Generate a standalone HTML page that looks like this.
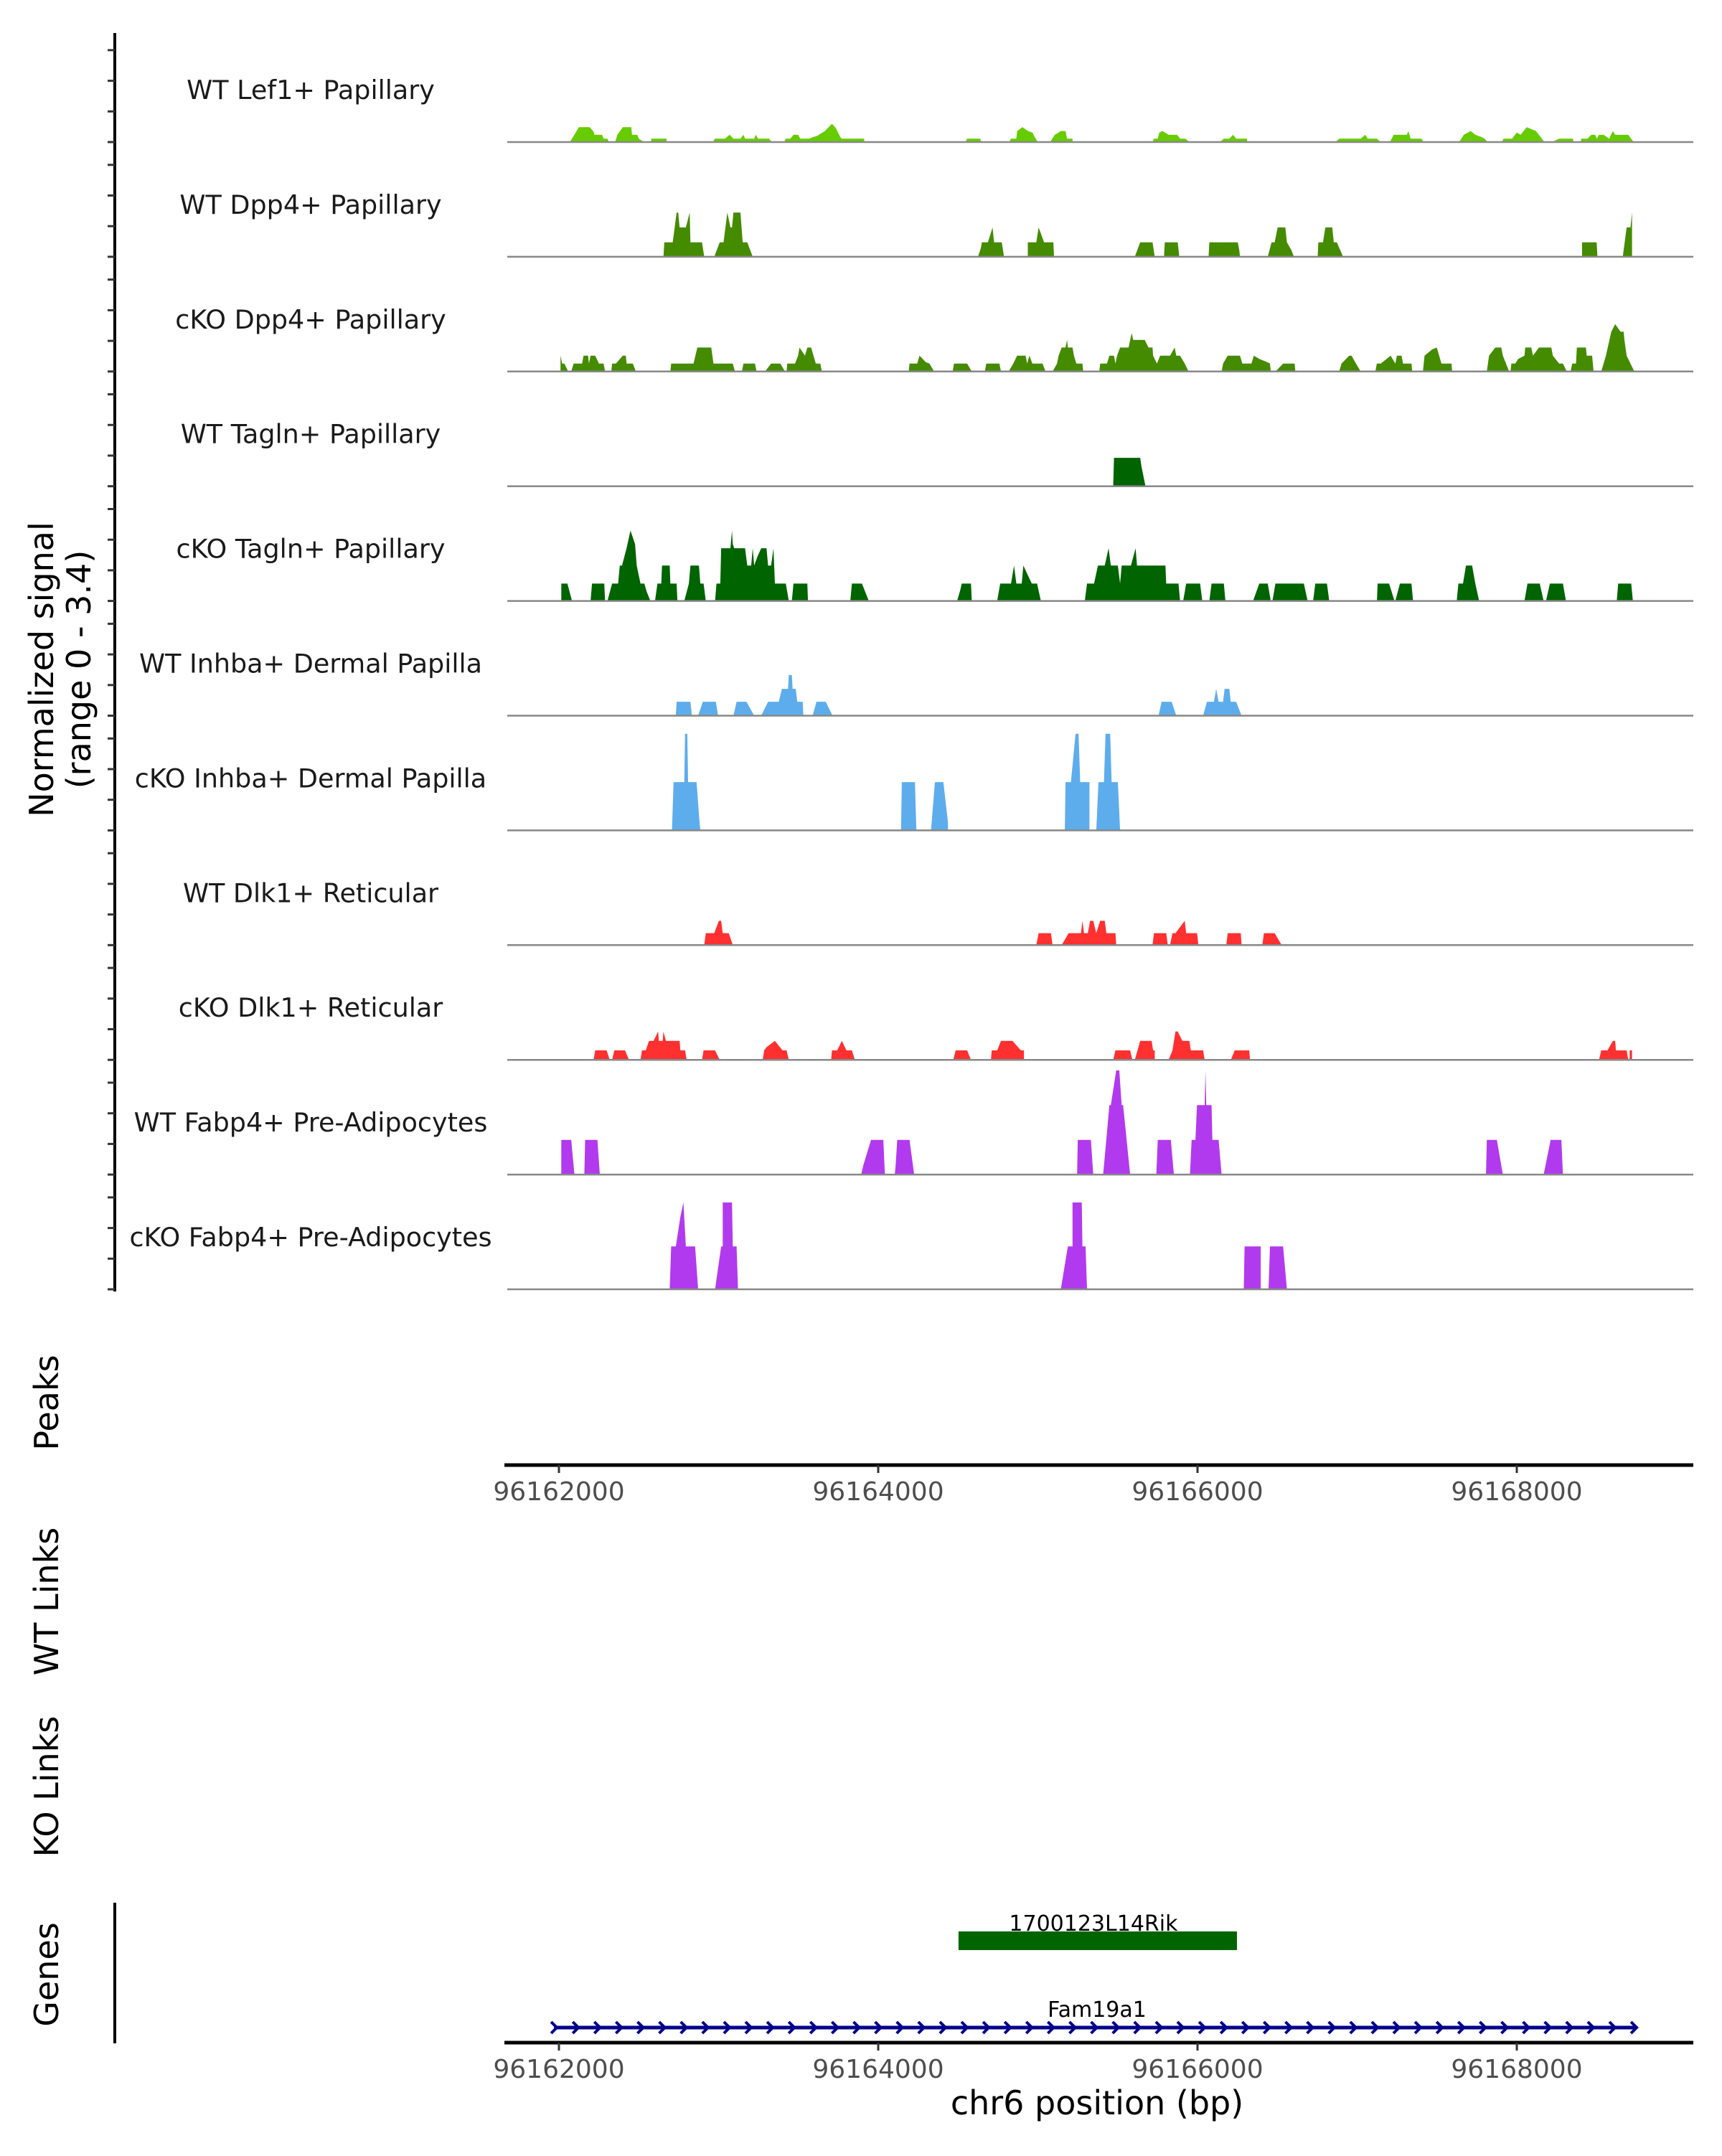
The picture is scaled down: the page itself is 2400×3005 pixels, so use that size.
<!DOCTYPE html>
<html><head><meta charset="utf-8"><style>
html,body{margin:0;padding:0;background:#fff;}
svg text{font-family:"DejaVu Sans","Liberation Sans",sans-serif;}
</style></head><body>
<svg id="chart" xmlns="http://www.w3.org/2000/svg" width="2400" height="3000" viewBox="0 0 2400 3000"></svg>
<script>
const regionStart = 96162000;
const trackNames = ["WT Lef1+ Papillary","WT Dpp4+ Papillary","cKO Dpp4+ Papillary","WT Tagln+ Papillary","cKO Tagln+ Papillary","WT Inhba+ Dermal Papilla","cKO Inhba+ Dermal Papilla","WT Dlk1+ Reticular","cKO Dlk1+ Reticular","WT Fabp4+ Pre-Adipocytes","cKO Fabp4+ Pre-Adipocytes"];
const trackColors = ["#66CC00","#458B00","#458B00","#006400","#006400","#5DADEC","#5DADEC","#FF3030","#FF3030","#B23AEE","#B23AEE"];
const xTicks = [96162000,96164000,96166000,96168000];

// signal: [bp offset from regionStart, normalized value]
const wtLef1 = [[68,0],[87,0.15],[125,0.47],[193,0.47],[217,0.33],[222,0.23],[270,0.23],[280,0.11],[304,0.11],[313,0],
[352,0],[366,0.23],[400,0.47],[453,0.47],[458,0.23],[491,0.23],[501,0.1],[535,0],
[578,0],[578,0.11],[674,0.11],[674,0],
[963,0],[978,0.11],[1040,0.11],[1069,0.23],[1093,0.11],[1137,0.11],[1156,0.23],[1166,0.11],[1223,0.11],[1233,0.23],[1247,0.11],[1315,0.11],[1334,0],
[1411,0],[1421,0.11],[1450,0.11],[1469,0.23],[1498,0.23],[1512,0.11],[1565,0.11],[1618,0.2],[1666,0.35],[1710,0.58],[1734,0.45],[1763,0.15],[1772,0.11],[1912,0.11],[1912,0],
[2547,0],[2557,0.11],[2639,0.11],[2644,0],
[2822,0],[2831,0.11],[2865,0.11],[2870,0.35],[2904,0.47],[2938,0.35],[2966,0.3],[2981,0.15],[3000,0],
[3077,0],[3106,0.23],[3145,0.35],[3173,0.35],[3183,0.11],[3217,0.11],[3217,0],
[3718,0],[3727,0.11],[3751,0.11],[3761,0.3],[3780,0.35],[3819,0.23],[3872,0.23],[3891,0.11],[3924,0.11],[3949,0],
[4141,0],[4165,0.11],[4199,0.11],[4223,0.23],[4242,0.11],[4310,0.11],[4310,0],
[4864,0],[4888,0.11],[5022,0.11],[5051,0.23],[5066,0.11],[5123,0.11],[5148,0],
[5205,0],[5229,0.23],[5311,0.23],[5321,0.35],[5335,0.11],[5402,0.11],[5417,0],
[5638,0],[5653,0.11],[5668,0.23],[5711,0.35],[5740,0.23],[5783,0.15],[5798,0.11],[5817,0],
[5904,0],[5918,0.11],[5971,0.11],[6000,0.3],[6024,0.23],[6062,0.47],[6120,0.35],[6139,0.23],[6173,0],
[6221,0],[6265,0.11],[6351,0.11],[6356,0],
[6400,0],[6404,0.11],[6443,0.11],[6467,0.23],[6491,0.23],[6501,0.11],[6515,0.23],[6544,0.23],[6578,0.11],[6602,0.35],[6616,0.23],[6698,0.23],[6732,0]];

const wtDpp4 = [[655,0],[660,0.46],[713,0.46],[737,1.4],[747,1.4],[756,0.93],[795,0.93],[819,1.4],[824,0.46],[896,0.46],[910,0],
[973,0],[1007,0.46],[1031,0.46],[1055,1.4],[1074,0.93],[1084,0.93],[1093,1.4],[1137,1.4],[1151,0.46],[1180,0.46],[1214,0],
[2625,0],[2644,0.3],[2649,0.46],[2687,0.46],[2716,0.93],[2726,0.46],[2774,0.46],[2788,0],
[2937,0],[2937,0.46],[2990,0.46],[3005,0.93],[3039,0.46],[3097,0.46],[3101,0],
[3607,0],[3641,0.46],[3718,0.46],[3732,0],
[3790,0],[3795,0.46],[3876,0.46],[3886,0],
[4069,0],[4074,0.46],[4252,0.46],[4262,0.2],[4266,0],
[4440,0],[4464,0.46],[4483,0.46],[4502,0.93],[4550,0.93],[4560,0.46],[4589,0.2],[4604,0],
[4753,0],[4757,0.46],[4786,0.46],[4801,0.93],[4844,0.93],[4854,0.46],[4873,0.46],[4912,0],
[6409,0],[6409,0.46],[6500,0.46],[6505,0],
[6664,0],[6688,0.93],[6712,0.93],[6722,1.4],[6722,0]];

const koDpp4 = [[10,0],[10,0.5],[20,0.25],[34,0.25],[58,0],
[77,0],[92,0.25],[145,0.25],[154,0.5],[183,0.5],[188,0.25],[198,0.5],[227,0.5],[251,0.25],[280,0.25],[289,0],
[328,0],[333,0.25],[357,0.25],[400,0.5],[419,0.5],[424,0.25],[463,0.25],[482,0],
[698,0],[703,0.25],[843,0.25],[867,0.76],[954,0.76],[968,0.25],[1089,0.25],[1103,0],
[1146,0],[1156,0.25],[1228,0.25],[1238,0],
[1291,0],[1329,0.25],[1387,0.25],[1416,0],
[1426,0],[1430,0.25],[1479,0.25],[1498,0.5],[1507,0.76],[1541,0.5],[1556,0.76],[1580,0.76],[1609,0.25],[1637,0.25],[1647,0],
[2191,0],[2196,0.25],[2244,0.25],[2259,0.5],[2297,0.3],[2321,0.25],[2350,0],
[2466,0],[2475,0.25],[2557,0.25],[2586,0],
[2668,0],[2677,0.25],[2759,0.25],[2769,0],
[2817,0],[2846,0.25],[2870,0.5],[2923,0.5],[2933,0.25],[2947,0.5],[2966,0.25],[3029,0.25],[3048,0],
[3092,0],[3120,0.25],[3130,0.5],[3149,0.76],[3173,0.76],[3183,1.0],[3188,0.76],[3217,0.76],[3226,0.5],[3241,0.25],[3279,0.25],[3284,0],
[3385,0],[3390,0.25],[3433,0.25],[3448,0.5],[3477,0.5],[3486,0.25],[3496,0.5],[3515,0.76],[3568,0.76],[3588,1.22],[3597,1.0],[3669,1.0],[3693,0.76],[3718,0.76],[3722,0.5],[3746,0.25],[3766,0.5],[3828,0.5],[3857,0.76],[3867,0.5],[3891,0.5],[3920,0.25],[3944,0],
[4151,0],[4160,0.25],[4189,0.5],[4266,0.5],[4281,0.25],[4338,0.25],[4353,0.5],[4387,0.4],[4435,0.3],[4454,0.25],[4459,0],
[4488,0],[4536,0.25],[4608,0.25],[4613,0],
[4887,0],[4902,0.25],[4950,0.5],[4965,0.5],[4993,0.25],[5022,0],
[5114,0],[5123,0.25],[5148,0.25],[5210,0.5],[5239,0.25],[5249,0.5],[5278,0.5],[5287,0.25],[5340,0.25],[5345,0],
[5412,0],[5422,0.5],[5470,0.7],[5499,0.76],[5528,0.25],[5591,0.25],[5595,0],
[5812,0],[5826,0.5],[5865,0.76],[5903,0.76],[5913,0.5],[5952,0],[5961,0],[5966,0.25],[5990,0.25],[6009,0.4],[6048,0.5],[6053,0.76],[6091,0.76],[6101,0.5],[6139,0.76],[6216,0.76],[6226,0.5],[6265,0.25],[6289,0.25],[6313,0],
[6337,0],[6347,0.25],[6371,0.25],[6376,0.76],[6433,0.76],[6438,0.5],[6472,0.5],[6481,0],
[6529,0],[6558,0.5],[6592,1.26],[6616,1.5],[6650,1.26],[6669,1.26],[6674,1.0],[6688,0.5],[6736,0]];

const wtTagln = [[3472,0],[3477,0.9],[3641,0.9],[3650,0.6],[3674,0]];

const koTagln = [[15,0],[15,0.55],[53,0.55],[77,0.1],[82,0],
[198,0],[207,0.55],[284,0.55],[289,0],
[304,0],[333,0.55],[371,0.55],[381,1.12],[395,1.12],[424,1.67],[448,2.23],[477,1.8],[487,1.12],[511,0.55],[535,0.55],[549,0.3],[573,0],
[602,0],[617,0.55],[641,0.55],[646,1.12],[694,1.12],[698,0.55],[737,0.55],[742,0],
[785,0],[814,0.55],[824,1.12],[877,1.12],[886,0.55],[906,0.55],[920,0],
[978,0],[987,0.55],[1011,0.55],[1016,1.67],[1074,1.67],[1084,2.23],[1089,1.8],[1098,1.67],[1166,1.67],[1180,1.12],[1204,1.12],[1214,1.67],[1223,1.12],[1243,1.4],[1267,1.67],[1300,1.67],[1310,1.12],[1329,1.12],[1344,1.67],[1353,0.55],[1421,0.55],[1440,0],
[1459,0],[1469,0.55],[1556,0.55],[1560,0],
[1825,0],[1835,0.55],[1898,0.55],[1941,0],
[2494,0],[2514,0.35],[2523,0.55],[2581,0.55],[2586,0],
[2745,0],[2764,0.55],[2832,0.55],[2851,1.12],[2865,0.55],[2899,0.55],[2909,1.12],[2962,0.55],[2995,0.55],[3019,0],
[3294,0],[3308,0.55],[3352,0.55],[3376,1.12],[3419,1.12],[3443,1.67],[3457,1.12],[3501,1.12],[3515,0.55],[3525,1.12],[3583,1.12],[3612,1.67],[3621,1.12],[3799,1.12],[3804,0.55],[3881,0.55],[3891,0],
[3910,0],[3929,0.55],[4016,0.55],[4030,0],
[4074,0],[4088,0.55],[4165,0.55],[4175,0],
[4348,0],[4387,0.55],[4440,0.55],[4459,0],[4469,0],[4488,0.55],[4666,0.55],[4690,0],
[4724,0],[4738,0.55],[4811,0.55],[4825,0],
[5124,0],[5128,0.55],[5200,0.55],[5234,0],[5239,0],[5268,0.55],[5340,0.55],[5350,0],
[5624,0],[5634,0.55],[5663,0.55],[5682,1.12],[5720,1.12],[5740,0.55],[5764,0],
[6048,0],[6067,0.55],[6144,0.55],[6168,0],
[6183,0],[6207,0.55],[6289,0.55],[6308,0],
[6626,0],[6635,0.55],[6717,0.55],[6727,0]];

const wtInhba = [[732,0],[737,0.44],[824,0.44],[833,0],
[872,0],[901,0.44],[983,0.44],[997,0],
[1093,0],[1113,0.44],[1175,0.44],[1223,0],
[1267,0],[1310,0.44],[1377,0.44],[1397,0.85],[1435,0.85],[1440,1.29],[1459,1.29],[1464,0.85],[1483,0.85],[1493,0.44],[1527,0.44],[1531,0],
[1589,0],[1613,0.44],[1671,0.44],[1714,0],
[3756,0],[3775,0.44],[3838,0.44],[3867,0],
[4035,0],[4059,0.44],[4103,0.44],[4117,0.85],[4132,0.44],[4160,0.44],[4170,0.85],[4199,0.85],[4208,0.44],[4242,0.44],[4276,0]];

const koInhba = [[708,0],[718,1.53],[785,1.53],[790,3.06],[804,3.06],[809,1.53],[862,1.53],[881,0.25],[886,0],
[2143,0],[2148,1.53],[2230,1.53],[2234,0.8],[2239,0],
[2331,0],[2355,1.53],[2408,1.53],[2437,0.25],[2437,0],
[3169,0],[3173,1.53],[3207,1.53],[3236,3.06],[3255,3.06],[3265,1.53],[3323,1.53],[3323,0],
[3366,0],[3380,1.53],[3414,1.53],[3424,3.06],[3453,3.06],[3462,1.53],[3501,1.53],[3515,0]];

const wtDlk1 = [[910,0],[920,0.38],[973,0.38],[1002,0.77],[1016,0.77],[1026,0.38],[1064,0.38],[1089,0],
[2990,0],[3005,0.38],[3082,0.38],[3092,0],
[3149,0],[3193,0.38],[3270,0.38],[3279,0.77],[3289,0.38],[3313,0.38],[3327,0.77],[3347,0.77],[3366,0.38],[3390,0.77],[3419,0.77],[3429,0.38],[3486,0.38],[3491,0],
[3718,0],[3727,0.38],[3804,0.38],[3814,0],
[3828,0],[3843,0.38],[3862,0.38],[3920,0.77],[3929,0.38],[3997,0.38],[4006,0],
[4180,0],[4189,0.38],[4271,0.38],[4276,0],
[4406,0],[4416,0.38],[4483,0.38],[4527,0]];

const koDlk1 = [[217,0],[227,0.3],[299,0.3],[318,0],
[333,0],[347,0.3],[414,0.3],[439,0],
[511,0],[520,0.3],[544,0.3],[564,0.6],[593,0.6],[621,0.9],[626,0.6],[650,0.6],[655,0.9],[670,0.6],[756,0.6],[761,0.3],[790,0.3],[800,0],
[896,0],[906,0.3],[978,0.3],[1007,0],
[1276,0],[1286,0.3],[1300,0.4],[1353,0.6],[1401,0.3],[1426,0.3],[1440,0],
[1705,0],[1710,0.3],[1743,0.3],[1772,0.6],[1801,0.3],[1835,0.3],[1854,0],
[2470,0],[2485,0.3],[2557,0.3],[2581,0],
[2706,0],[2711,0.3],[2745,0.3],[2769,0.6],[2841,0.6],[2894,0.3],[2913,0.3],[2913,0],
[3472,0],[3486,0.3],[3578,0.3],[3592,0],
[3607,0],[3641,0.6],[3713,0.6],[3722,0.3],[3732,0.3],[3732,0],
[3819,0],[3843,0.3],[3862,0.9],[3876,0.9],[3905,0.6],[3949,0.6],[3958,0.3],[4035,0.3],[4045,0],
[4209,0],[4233,0.3],[4324,0.3],[4329,0],
[6515,0],[6529,0.3],[6568,0.3],[6602,0.6],[6616,0.6],[6621,0.3],[6688,0.3],[6698,0],[6707,0],[6707,0.3],[6722,0.3],[6722,0]];

const wtFabp4 = [[15,0],[15,1.1],[77,1.1],[97,0],
[159,0],[164,1.1],[241,1.1],[256,0],
[1893,0],[1907,0.3],[1955,1.1],[2032,1.1],[2042,0],
[2104,0],[2109,0.3],[2119,1.1],[2196,1.1],[2225,0],
[3246,0],[3250,1.1],[3332,1.1],[3347,0],
[3409,0],[3448,2.2],[3457,2.2],[3491,3.3],[3510,3.3],[3525,2.2],[3534,2.2],[3578,0],
[3742,0],[3751,1.1],[3833,1.1],[3852,0],
[3953,0],[3963,1.1],[3987,1.1],[3997,2.2],[4045,2.2],[4050,3.3],[4055,2.2],[4088,2.2],[4093,1.1],[4132,1.1],[4151,0],
[5807,0],[5812,1.1],[5875,1.1],[5913,0],
[6168,0],[6212,1.1],[6279,1.1],[6289,0]];

const koFabp4 = [[694,0],[703,1.36],[732,1.36],[761,2.3],[780,2.75],[795,1.36],[853,1.36],[872,0],
[978,0],[1016,1.36],[1026,1.36],[1026,2.75],[1084,2.75],[1089,1.36],[1113,1.36],[1122,0],
[3144,0],[3188,1.36],[3217,1.36],[3217,2.75],[3275,2.75],[3279,1.36],[3299,1.36],[3308,0],
[4290,0],[4295,1.36],[4396,1.36],[4396,0],
[4445,0],[4454,1.36],[4536,1.36],[4560,0]];

const trackData = [wtLef1,wtDpp4,koDpp4,wtTagln,koTagln,wtInhba,koInhba,wtDlk1,koDlk1,wtFabp4,koFabp4];

const geneNames = ["1700123L14Rik","Fam19a1"];
const geneStarts = [96164503,96161969];
const geneEnds = [96166247,96168750];

// ---- layout ----
const NS = "http://www.w3.org/2000/svg";
const svg = document.getElementById("chart");
const X0 = 779, PXBP = 0.2225;
function xs(bp){ return X0 + (bp - regionStart) * PXBP; }
function xo(off){ return X0 + off * PXBP; }
const trackBase = i => 198 + i * 159.9;
const YPX = 44;
function ys(i, v){ return trackBase(i) - v * YPX; }
function mk(tag, attrs, parent){ const e = document.createElementNS(NS, tag); for (const k in attrs) e.setAttribute(k, attrs[k]); (parent||svg).appendChild(e); return e; }
function txt(s, attrs){ const t = mk("text", attrs); t.textContent = s; return t; }

const ax = mk("line",{x1:160,y1:46,x2:160,y2:1800,stroke:"#000","stroke-width":4});


for (let i=0;i<trackNames.length;i++){
  for (let k=0;k<4;k++){
    const y = trackBase(i) - k*42.7;
    const tk = mk("line",{x1:150,y1:y,x2:160,y2:y,stroke:"#333","stroke-width":3});
    
    
  }
}

for (let i=0;i<trackNames.length;i++){
  const d = trackData[i];
  const pts = d.map(p => xo(p[0]).toFixed(1)+","+ys(i,p[1]).toFixed(1)).join(" ");
  const poly = mk("polygon",{points:pts,fill:trackColors[i]});
  
  
  const bl = mk("line",{x1:707,y1:trackBase(i),x2:2360,y2:trackBase(i),stroke:"#888","stroke-width":2.5});
  
  
  const lb = txt(trackNames[i],{x:433,y:trackBase(i)-60,"text-anchor":"middle","font-size":36.5,fill:"#1a1a1a"});
  
  
}

function rotTitle(lines, cx, cy, name){
  const t = mk("text",{transform:`translate(${cx},${cy}) rotate(-90)`,"text-anchor":"middle","font-size":46,fill:"#000"});
  
  
  lines.forEach((l,j)=>{ const s = mk("tspan",{x:0,dy: j===0 ? (lines.length>1 ? -8 : 16) : 52},t); s.textContent = l; });
}
rotTitle(["Normalized signal","(range 0 - 3.4)"], 82, 933, "y-axis-title");
rotTitle(["Peaks"], 65, 1955, "peaks-title");
rotTitle(["WT Links"], 65, 2232, "wt-links-title");
rotTitle(["KO Links"], 65, 2490, "ko-links-title");
rotTitle(["Genes"], 65, 2752, "genes-title");

function xAxis(y, name){
  const l = mk("line",{x1:703,y1:y,x2:2360,y2:y,stroke:"#000","stroke-width":5});
  
  
  xTicks.forEach(t=>{
    const tk = mk("line",{x1:xs(t),y1:y,x2:xs(t),y2:y+11,stroke:"#333","stroke-width":3});
    
    
    const tl = txt(String(t),{x:xs(t),y:y+49,"text-anchor":"middle","font-size":36,fill:"#4d4d4d"});
    
    
  });
}
xAxis(2042, "peaks-x-axis");
xAxis(2847, "genes-x-axis");
const xt = txt("chr6 position (bp)",{x:1529,y:2947,"text-anchor":"middle","font-size":46,fill:"#000"});



const gax = mk("line",{x1:160,y1:2652,x2:160,y2:2848,stroke:"#000","stroke-width":4});



const g1 = mk("rect",{x:xs(geneStarts[0]),y:2692,width:xs(geneEnds[0])-xs(geneStarts[0]),height:26,fill:"#006400"});


const g1t = txt(geneNames[0],{x:(xs(geneStarts[0])+xs(geneEnds[0]))/2 - 6,y:2691,"text-anchor":"middle","font-size":30,fill:"#000"});



const gy = 2826;
const g2 = mk("line",{x1:xs(geneStarts[1]),y1:gy,x2:xs(geneEnds[1]),y2:gy,stroke:"#00008B","stroke-width":5});


let path = "";
for (let x = xs(geneStarts[1]); x <= xs(geneEnds[1]) + 1; x += 30.1){
  path += `M${(x-4).toFixed(1)},${gy-8} L${(x+4).toFixed(1)},${gy} L${(x-4).toFixed(1)},${gy+8} `;
}
const ch = mk("path",{d:path,stroke:"#00008B","stroke-width":4,fill:"none"});


const g2t = txt(geneNames[1],{x:1529,y:2811,"text-anchor":"middle","font-size":30,fill:"#000"});


</script>
</body></html>
